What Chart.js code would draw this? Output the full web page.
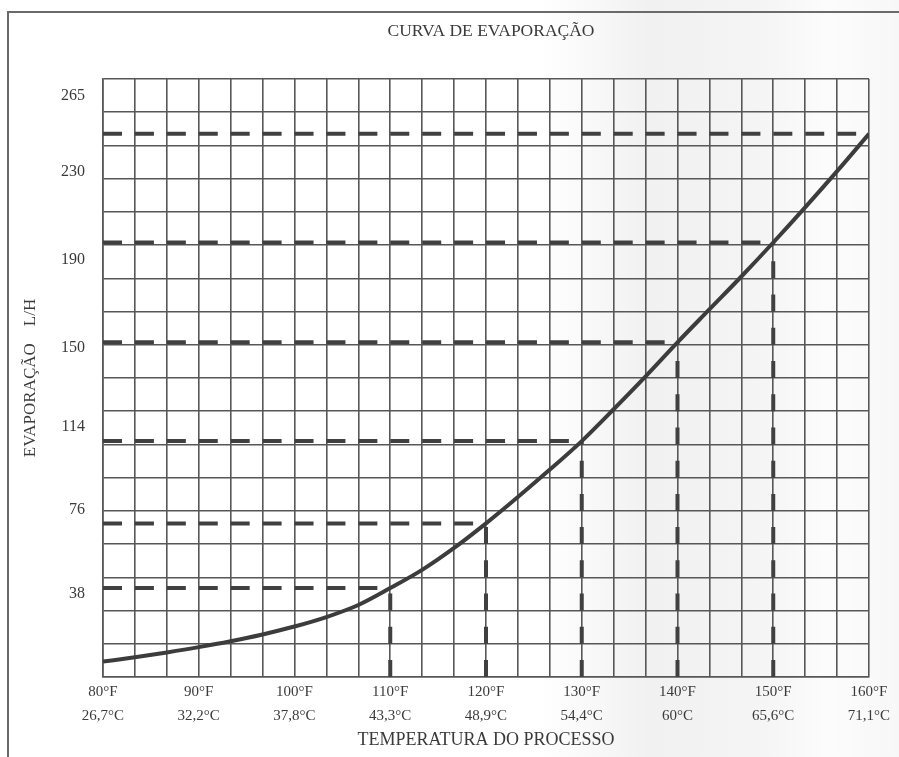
<!DOCTYPE html>
<html>
<head>
<meta charset="utf-8">
<script src="https://cdn.jsdelivr.net/npm/chart.js@4.4.0/dist/chart.umd.min.js"></script>
<style>
  html, body { margin: 0; padding: 0; background: #fff; }
</style>
</head>
<body>
<canvas id="myChart" width="899" height="757"></canvas>
<script>
// temperatures along the curve (°F), one point per grid column
const tempF = [80, 83.33, 86.67, 90, 93.33, 96.67, 100, 103.33, 106.67, 110, 113.33, 116.67,
  120, 123.33, 126.67, 130, 133.33, 136.67, 140, 143.33, 146.67, 150, 153.33, 156.67, 160];
// evaporation (L/H)
const evap = [7, 9, 11.2, 13.6, 16.3, 19.4, 23, 27.3, 32.8, 40.5, 48.8, 58.8,
  70, 82, 94.5, 107.5, 122, 137, 152.5, 167.5, 182.5, 198, 214, 230.5, 247.5];

// x tick labels
const fTicks = [80, 90, 100, 110, 120, 130, 140, 150, 160];
const fLabels = ["80°F", "90°F", "100°F", "110°F", "120°F", "130°F", "140°F", "150°F", "160°F"];
const cLabels = ["26,7°C", "32,2°C", "37,8°C", "43,3°C", "48,9°C", "54,4°C", "60°C", "65,6°C", "71,1°C"];

// y tick labels (L/H)
const yLabelVals = [38, 76, 114, 150, 190, 230, 265];

// dashed reading lines
const guideTemps = [110, 120, 130, 140, 150, 160];
const dropTemps = [110, 120, 130, 140, 150];

const yMax = 272.5;   // 72 gal/h
const yRows = 18;
const xCols = 24;

const ink = "#3a3a3a";
const gridColor = "#575757";
const serif = "'Liberation Serif', 'Times New Roman', serif";

function evapAt(t) {
  const i = tempF.findIndex((v) => Math.abs(v - t) < 0.01);
  return evap[i];
}

const datasets = [
  {
    label: "curva",
    data: tempF.map((t, i) => ({ x: t, y: evap[i] })),
    borderColor: "#3c3c3c",
    borderWidth: 4,
    pointRadius: 0,
    cubicInterpolationMode: "monotone",
    fill: false,
  },
];
guideTemps.forEach((t) => {
  datasets.push({
    label: "h" + t,
    data: [{ x: 80, y: evapAt(t) }, { x: t, y: evapAt(t) }],
    borderColor: "#404040",
    borderWidth: 4,
    borderDash: [19, 12.92],
    borderCapStyle: "butt",
    pointRadius: 0,
    fill: false,
  });
});
dropTemps.forEach((t) => {
  datasets.push({
    label: "v" + t,
    data: [{ x: t, y: 0 }, { x: t, y: evapAt(t) }],
    borderColor: "#404040",
    borderWidth: 4,
    borderDash: [17, 16.22],
    borderCapStyle: "butt",
    pointRadius: 0,
    fill: false,
  });
});

// page title, frame and the grey scan tint
const pagePlugin = {
  id: "page",
  beforeDraw(chart) {
    const ctx = chart.ctx;
    ctx.save();
    ctx.fillStyle = "#ffffff";
    ctx.fillRect(0, 0, chart.width, chart.height);
    const g = ctx.createLinearGradient(540, 0, 899, 0);
    g.addColorStop(0, "rgba(0,0,0,0)");
    g.addColorStop(0.3, "rgba(0,0,0,0.055)");
    g.addColorStop(0.6, "rgba(0,0,0,0.045)");
    g.addColorStop(0.8, "rgba(0,0,0,0.01)");
    g.addColorStop(1, "rgba(0,0,0,0.03)");
    ctx.fillStyle = g;
    ctx.fillRect(540, 0, 359, chart.height);
    ctx.restore();
  },
  afterDraw(chart) {
    const ctx = chart.ctx;
    ctx.save();
    ctx.strokeStyle = "#6a6a6a";
    ctx.lineWidth = 2;
    ctx.beginPath();
    ctx.moveTo(8, 757);
    ctx.lineTo(8, 12);
    ctx.lineTo(899, 12);
    ctx.stroke();
    ctx.fillStyle = ink;
    ctx.font = "17.5px " + serif;
    ctx.textAlign = "center";
    ctx.textBaseline = "middle";
    ctx.fillText("CURVA DE EVAPORAÇÃO", 491, 31);
    ctx.restore();
  },
};

const xGrid = [];
for (let i = 0; i <= xCols; i++) xGrid.push(80 + (i * 80) / xCols);
const yGrid = [];
for (let i = 0; i <= yRows; i++) yGrid.push((i * yMax) / yRows);

const config = {
  type: "line",
  data: { datasets },
  options: {
    responsive: false,
    animation: false,
    layout: { padding: { left: 0, right: 30, top: 79, bottom: 0 } },
    plugins: {
      legend: { display: false },
      tooltip: { enabled: false },
      title: { display: false },
    },
    scales: {
      x: {
        type: "linear",
        min: 80,
        max: 160,
        afterBuildTicks: (scale) => {
          scale.ticks = xGrid.map((v) => ({ value: v }));
        },
        afterFit: (scale) => {
          scale.height = 80;
        },
        grid: { color: gridColor, lineWidth: 1.6, drawTicks: false },
        border: { color: gridColor, width: 1.6 },
        ticks: {
          autoSkip: false,
          maxRotation: 0,
          padding: 3,
          color: ink,
          font: { family: serif, size: 15, lineHeight: 1.6 },
          callback: (v) => {
            const i = fTicks.findIndex((f) => Math.abs(f - v) < 0.01);
            return i < 0 ? "" : [fLabels[i], cLabels[i]];
          },
        },
        title: {
          display: true,
          text: "TEMPERATURA DO PROCESSO",
          color: ink,
          padding: { top: 0, bottom: 6 },
          font: { family: serif, size: 18 },
        },
      },
      y: {
        type: "linear",
        min: 0,
        max: yMax,
        afterBuildTicks: (scale) => {
          const vals = yGrid.concat(yLabelVals).sort((a, b) => a - b);
          scale.ticks = vals.map((v) => ({ value: v }));
        },
        afterFit: (scale) => {
          scale.width = 103;
        },
        grid: {
          color: (c) => (c.tick && yLabelVals.includes(c.tick.value) ? "rgba(0,0,0,0)" : gridColor),
          lineWidth: 1.6,
          drawTicks: false,
        },
        border: { color: gridColor, width: 1.6 },
        ticks: {
          autoSkip: false,
          padding: 18,
          color: ink,
          font: { family: serif, size: 16 },
          callback: (v) => (yLabelVals.includes(v) ? String(v) : ""),
        },
        title: {
          display: true,
          text: "EVAPORAÇÃO    L/H",
          color: ink,
          padding: { top: 20, bottom: 0 },
          font: { family: serif, size: 17 },
        },
      },
    },
  },
  plugins: [pagePlugin],
};

var myChart = new Chart(document.getElementById("myChart"), config);
</script>
</body>
</html>
